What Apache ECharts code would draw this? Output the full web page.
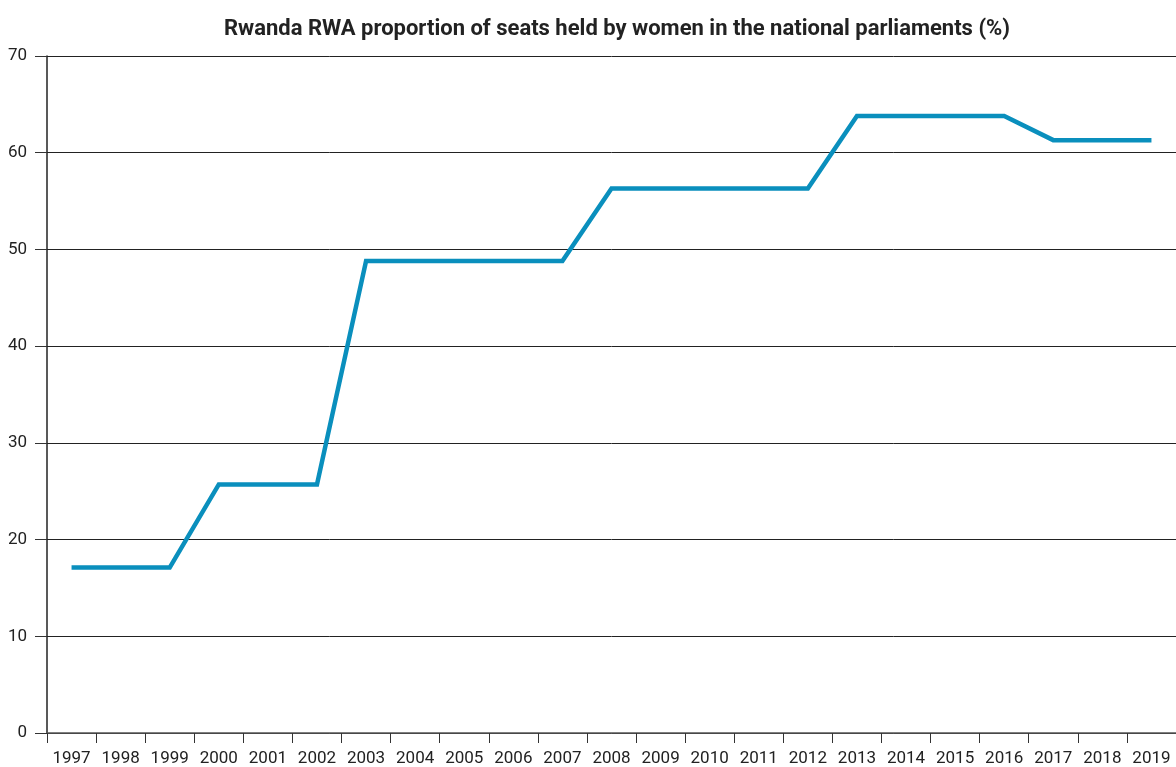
<!DOCTYPE html>
<html>
<head>
<meta charset="utf-8">
<script src="https://cdn.jsdelivr.net/npm/echarts@6/dist/echarts.min.js"></script>
<style>
  html, body { margin: 0; padding: 0; background: #fff; }
  #chart { width: 1176px; height: 767px; }
</style>
</head>
<body>
<div id="chart"></div>
<script>
// Rwanda: share of seats held by women in the national parliament
const years = ['1997','1998','1999','2000','2001','2002','2003','2004','2005','2006','2007','2008',
  '2009','2010','2011','2012','2013','2014','2015','2016','2017','2018','2019'];
const womenSeatsPct = [17.1,17.1,17.1,25.7,25.7,25.7,48.8,48.8,48.8,48.8,48.8,56.3,
  56.3,56.3,56.3,56.3,63.8,63.8,63.8,63.8,61.3,61.3,61.3];
const yTicks = { min: 0, max: 70, interval: 10 };

const FONT = '"Liberation Sans Narrow", "Roboto", "DejaVu Sans Condensed", sans-serif';

const chart = echarts.init(document.getElementById('chart'));
chart.setOption({
  animation: false,
  backgroundColor: '#ffffff',
  title: {
    text: 'Rwanda RWA proportion of seats held by women in the national parliaments (%)',
    left: 612,
    top: 13,
    textAlign: 'center',
    textStyle: { fontFamily: FONT, fontSize: 22, fontWeight: 'bold', color: '#222' }
  },
  grid: { left: 47, right: 0, top: 56, bottom: 34, containLabel: false },
  xAxis: {
    type: 'category',
    data: years,
    boundaryGap: true,
    axisLine: { show: true, lineStyle: { color: '#555', width: 1.5 } },
    axisTick: { show: true, length: 10, alignWithLabel: false, lineStyle: { color: '#333', width: 1 } },
    axisLabel: { fontFamily: FONT, fontSize: 17, color: '#222', margin: 17, interval: 0 },
    splitLine: { show: false }
  },
  yAxis: {
    type: 'value',
    min: yTicks.min,
    max: yTicks.max,
    interval: yTicks.interval,
    axisLine: { show: true, lineStyle: { color: '#222', width: 1.5 } },
    axisTick: { show: true, length: 12, lineStyle: { color: '#333', width: 1 } },
    axisLabel: { fontFamily: FONT, fontSize: 17, color: '#222', margin: 20 },
    splitLine: { show: true, lineStyle: { color: '#222', width: 1 } }
  },
  series: [{
    type: 'line',
    data: womenSeatsPct,
    symbol: 'none',
    lineStyle: { color: '#0a8fbd', width: 4.5, cap: 'butt', join: 'miter' },
    z: 5
  }]
});
</script>
</body>
</html>
